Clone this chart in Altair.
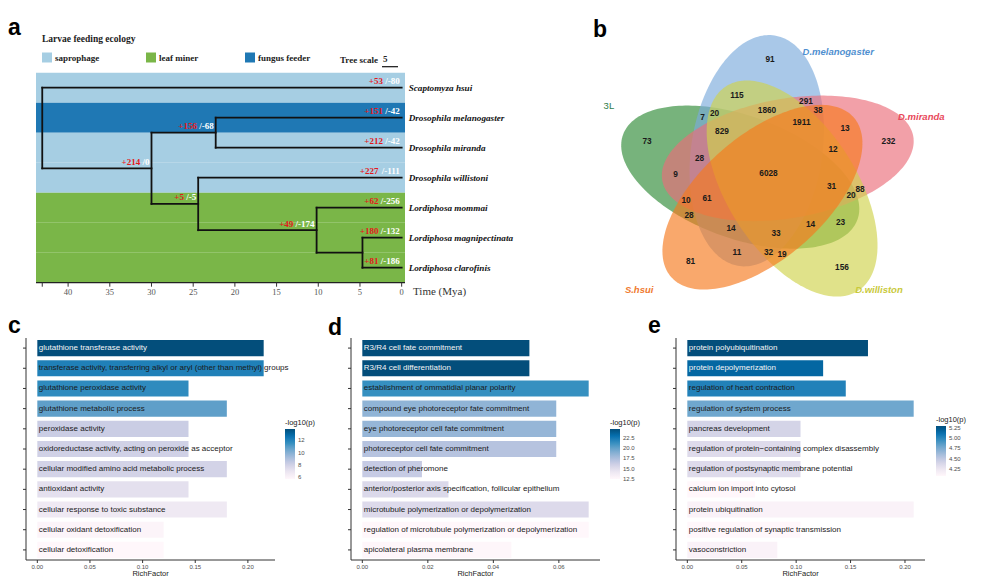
import altair as alt
import numpy as np
import pandas as pd

SERIF = "Liberation Serif"
SANS = "Liberation Sans"

# ============ panel a : phylogeny and feeding ecology ============
TIPS = ["Scaptomyza hsui", "Drosophila melanogaster", "Drosophila miranda",
        "Drosophila willistoni", "Lordiphosa mommai", "Lordiphosa magnipectinata",
        "Lordiphosa clarofinis"]
TIP_ECOLOGY = ["saprophage", "fungus feeder", "saprophage", "saprophage",
               "leaf miner", "leaf miner", "leaf miner"]
ECOLOGY_CLASSES = ["saprophage", "leaf miner", "fungus feeder"]
ECOLOGY_COLORS = ["#a6cee3", "#7ab648", "#1f78b4"]

NODES = ["root", "dros_lord", "mel_mir", "will_lord", "lord", "mag_cla"]
NODE_AGES = [43.1, 30.0, 22.3, 24.4, 10.2, 4.7]
NODE_CHILDREN = [["Scaptomyza hsui", "dros_lord"], ["mel_mir", "will_lord"],
                 ["Drosophila melanogaster", "Drosophila miranda"],
                 ["Drosophila willistoni", "lord"], ["Lordiphosa mommai", "mag_cla"],
                 ["Lordiphosa magnipectinata", "Lordiphosa clarofinis"]]
BRANCHES = ["Scaptomyza hsui", "Drosophila melanogaster", "Drosophila miranda", "mel_mir",
            "Drosophila willistoni", "dros_lord", "will_lord", "lord",
            "Lordiphosa mommai", "Lordiphosa magnipectinata", "Lordiphosa clarofinis"]
GAINS = [53, 151, 212, 156, 227, 214, 5, 49, 62, 180, 81]
LOSSES = [80, 42, 42, 68, 111, 0, 5, 174, 256, 132, 186]
TIME_TICKS = [40, 35, 30, 25, 20, 15, 10, 5, 0]
TREE_SCALE = 5

ROW1_H, ROW2_H = 292, 276
W_A, W_B = 580, 388
W_C, W_D, W_E = 320, 317, 331

X_DOM = [43.85, -0.4]
X_RNG_A = [28, 397]
Y_RNG_A = [64.7, 274.7]
PXU = (X_RNG_A[1] - X_RNG_A[0]) / (X_DOM[0] - X_DOM[1])

age = dict(zip(NODES, NODE_AGES))
age.update({t: 0.0 for t in TIPS})
ypos = {t: float(i) for i, t in enumerate(TIPS)}
children = dict(zip(NODES, NODE_CHILDREN))


def node_y(n):
    if n not in ypos:
        ypos[n] = float(np.mean([node_y(c) for c in children[n]]))
    return ypos[n]


node_y(NODES[0])
parent = {c: p for p, cs in children.items() for c in cs}

seg_rows = []
for n, cs in children.items():
    seg_rows.append({"x": age[n], "x2": age[n], "y": ypos[cs[0]], "y2": ypos[cs[-1]]})
for c, p in parent.items():
    seg_rows.append({"x": age[p], "x2": age[c], "y": ypos[c], "y2": ypos[c]})
seg_df = pd.DataFrame(seg_rows)

TB = {"+": 0.570, "-": 0.333, "/": 0.278, " ": 0.25}


def tw(s, size):
    return sum(TB.get(ch, 0.5) for ch in s) * size


GL = 9
lab_rows = []
for b, g, l in zip(BRANCHES, GAINS, LOSSES):
    loss_txt = "/0" if l == 0 else "/-%d" % l
    shift = (tw(loss_txt, GL) + tw(" ", GL)) / PXU
    lab_rows.append({"y": ypos[b], "xw": age[b], "xr": age[b] + shift,
                     "gain": "+%d" % g, "loss": loss_txt})
lab_df = pd.DataFrame(lab_rows)

tip_df = pd.DataFrame({"species": TIPS, "row": [ypos[t] for t in TIPS],
                       "age": [age[t] for t in TIPS]})
band_df = pd.DataFrame({"row": np.arange(len(TIPS)), "ecology": TIP_ECOLOGY})
band_df["y0"] = band_df["row"] - 0.5
band_df["y1"] = band_df["row"] + 0.5
band_df["xl"] = X_DOM[0]
band_df["xr"] = X_DOM[1]

xs_a = alt.Scale(domain=X_DOM, range=X_RNG_A, nice=False, zero=False)
ys_a = alt.Scale(domain=[-0.5, len(TIPS) - 0.5], range=Y_RNG_A, nice=False, zero=False)

bands = alt.Chart(band_df).mark_rect().encode(
    x=alt.X("xl:Q", scale=xs_a, axis=None),
    x2="xr:Q",
    y=alt.Y("y0:Q", scale=ys_a, axis=None),
    y2="y1:Q",
    color=alt.Color("ecology:N",
                    scale=alt.Scale(domain=ECOLOGY_CLASSES, range=ECOLOGY_COLORS),
                    legend=alt.Legend(title="Larvae feeding ecology", orient="none",
                                      legendX=34, legendY=26, direction="horizontal",
                                      titleFont=SERIF, titleFontSize=9.5,
                                      titleFontWeight="bold", titleColor="#222",
                                      titlePadding=9, labelFont=SERIF, labelFontSize=9,
                                      labelFontWeight="bold", labelColor="#222",
                                      symbolType="square", symbolSize=100,
                                      symbolStrokeWidth=0, labelOffset=3,
                                      columnPadding=46)))

base_df = pd.DataFrame({"xl": [X_DOM[0]], "xr": [X_DOM[1]], "yb": [len(TIPS) - 0.5]})
base_rule = alt.Chart(base_df).mark_rule(color="#222", strokeWidth=1.2).encode(
    x=alt.X("xl:Q", scale=xs_a, axis=None), x2="xr:Q",
    y=alt.Y("yb:Q", scale=ys_a, axis=None))

a_tick_df = pd.DataFrame({"t": [NODE_AGES[0]] + TIME_TICKS,
                          "lab": [""] + [str(v) for v in TIME_TICKS]})
a_ticks = alt.Chart(a_tick_df).mark_rule(color="#333", strokeWidth=1).encode(
    x=alt.X("t:Q", scale=xs_a, axis=None),
    y=alt.value(Y_RNG_A[1]), y2=alt.value(Y_RNG_A[1] + 4))
a_tlab = alt.Chart(a_tick_df).mark_text(font=SERIF, fontSize=8.5, color="#555",
                                        align="center", baseline="middle").encode(
    x=alt.X("t:Q", scale=xs_a, axis=None), y=alt.value(Y_RNG_A[1] + 9.5), text="lab:N")
a_title = alt.Chart(pd.DataFrame({"t": ["Time (Mya)"]})).mark_text(
    font=SERIF, fontSize=11, color="#333", align="left", baseline="middle").encode(
    x=alt.value(X_RNG_A[1] + 8), y=alt.value(Y_RNG_A[1] + 9.5), text="t:N")

branches = alt.Chart(seg_df).mark_rule(color="#111", strokeWidth=1.8,
                                       strokeCap="square").encode(
    x=alt.X("x:Q", scale=xs_a, axis=None), x2="x2:Q",
    y=alt.Y("y:Q", scale=ys_a, axis=None), y2="y2:Q")

gain_t = alt.Chart(lab_df).mark_text(align="right", baseline="middle", dx=-2, dy=-6.5,
                                     font=SERIF, fontSize=GL, fontWeight="bold",
                                     color="#e31a1c").encode(
    x=alt.X("xr:Q", scale=xs_a, axis=None), y=alt.Y("y:Q", scale=ys_a, axis=None),
    text="gain:N")
loss_t = alt.Chart(lab_df).mark_text(align="right", baseline="middle", dx=-2, dy=-6.5,
                                     font=SERIF, fontSize=GL, fontWeight="bold",
                                     color="#ffffff").encode(
    x=alt.X("xw:Q", scale=xs_a, axis=None), y=alt.Y("y:Q", scale=ys_a, axis=None),
    text="loss:N")
species_t = alt.Chart(tip_df).mark_text(align="left", baseline="middle", dx=7,
                                        font=SERIF, fontSize=9.2, fontStyle="italic",
                                        fontWeight="bold", color="#111").encode(
    x=alt.X("age:Q", scale=xs_a, axis=None), y=alt.Y("row:Q", scale=ys_a, axis=None),
    text="species:N")

ts_df = pd.DataFrame({"t": ["Tree scale"], "v": [str(TREE_SCALE)]})
ts_text = alt.Chart(ts_df).mark_text(align="left", baseline="middle", font=SERIF,
                                     fontSize=9, fontWeight="bold", color="#222").encode(
    x=alt.value(332), y=alt.value(52), text="t:N")
ts_five = alt.Chart(ts_df).mark_text(align="left", baseline="middle", font=SERIF,
                                     fontSize=9, fontWeight="bold", color="#222").encode(
    x=alt.value(375), y=alt.value(51), text="v:N")
ts_bar = alt.Chart(ts_df).mark_rule(color="#111", strokeWidth=1.2).encode(
    x=alt.value(374), x2=alt.value(390), y=alt.value(58.7))


def panel_letter(letter, x, y):
    return alt.Chart(pd.DataFrame({"t": [letter]})).mark_text(
        align="left", baseline="alphabetic", font=SANS, fontSize=23,
        fontWeight="bold", color="#000").encode(x=alt.value(x), y=alt.value(y), text="t:N")


chart_a = alt.layer(bands, base_rule, a_ticks, a_tlab, a_title, branches, gain_t, loss_t,
                    species_t, ts_text, ts_five, ts_bar,
                    panel_letter("a", 0, 27)).properties(width=W_A, height=ROW1_H)

# ============ panel b : five-set Venn ============
SET_KEYS = ["M", "R", "W", "S", "L"]
SET_NAMES = ["D.melanogaster", "D.miranda", "D.williston", "S.hsui", "3L"]
REGION_KEYS = ["M", "R", "W", "S", "L",
               "M&W", "R&L", "M&S", "W&L", "R&S",
               "M&R", "M&L", "S&L", "W&S", "R&W",
               "M&R&W", "R&W&S", "W&S&L", "M&S&L", "M&R&L",
               "M&W&L", "M&R&S", "R&W&L", "M&W&S", "R&S&L",
               "M&R&W&S", "M&R&W&L", "M&R&S&L", "M&W&S&L", "R&W&S&L",
               "M&R&W&S&L"]
REGION_COUNTS = [91, 232, 156, 81, 73,
                 115, 9, 11, 23, 13,
                 291, 7, 28, 19, 88,
                 1860, 12, 14, 14, 28,
                 20, 38, 20, 32, 10,
                 1911, 829, 61, 33, 31,
                 6028]

# diagram geometry: centre x, centre y, semi-major, semi-minor, rotation (degrees)
ELLIPSES = {
    "M": (-7.27, 22.27, 116.60, 65.51, 81.15),
    "R": (23.77, 14.63, 127.41, 59.71, 9.92),
    "W": (28.09, -15.55, 121.74, 64.42, -57.10),
    "S": (-1.58, -24.21, 121.24, 61.87, -138.89),
    "L": (-23.75, -4.14, 124.66, 61.26, 160.07),
}
DRAW_ORDER = ["L", "M", "R", "W", "S"]
FILL = {"M": "#7babdc", "R": "#eb6d7a", "W": "#d0d34b", "S": "#f67a1d", "L": "#2e8b36"}
NAME_COLOR = {"M": "#4f8fd0", "R": "#e8485a", "W": "#c9c93a", "S": "#f07a30", "L": "#2e7d4a"}
CAT_POS = {"M": (58.5, 142), "R": (19.6, 167), "W": (-45.5, 164), "S": (-136.9, 171),
           "L": (156.6, 169)}

xs_b = alt.Scale(domain=[-176, -176 + W_B], nice=False, zero=False)
ys_b = alt.Scale(domain=[165 - ROW1_H, 165], nice=False, zero=False)


def ellipse_pts(cx, cy, a, b, rot, n=200):
    th = np.radians(rot)
    t = np.linspace(0, 2 * np.pi, n)
    x = cx + a * np.cos(t) * np.cos(th) - b * np.sin(t) * np.sin(th)
    y = cy + a * np.cos(t) * np.sin(th) + b * np.sin(t) * np.cos(th)
    return x, y


# place each count at the point of its region farthest from every outline
gx, gy = np.meshgrid(np.arange(-180, 180, 1.5), np.arange(-140, 140, 1.5))
P = np.column_stack([gx.ravel(), gy.ravel()])
inside, dist = {}, {}
for k in SET_KEYS:
    cx, cy, a, b, rot = ELLIPSES[k]
    th = np.radians(rot)
    u = np.array([np.cos(th), np.sin(th)])
    v = np.array([-np.sin(th), np.cos(th)])
    d = P - np.array([cx, cy])
    inside[k] = (d @ u / a) ** 2 + (d @ v / b) ** 2 <= 1.0
    bx, by = ellipse_pts(cx, cy, a, b, rot, 360)
    B = np.column_stack([bx, by])
    dm = np.empty(len(P))
    for i in range(0, len(P), 5000):
        ch = P[i:i + 5000]
        dm[i:i + 5000] = np.sqrt(((ch[:, None, :] - B[None, :, :]) ** 2).sum(axis=2)).min(axis=1)
    dist[k] = dm

reg_rows = []
for key, cnt in zip(REGION_KEYS, REGION_COUNTS):
    mem = set(key.split("&"))
    score = np.full(len(P), np.inf)
    for k in SET_KEYS:
        score = np.minimum(score, np.where(inside[k] == (k in mem), dist[k], -dist[k]))
    j = int(np.argmax(score))
    reg_rows.append({"x": float(P[j, 0]), "y": float(P[j, 1]), "n": str(cnt)})
reg_df = pd.DataFrame(reg_rows)

venn_layers = []
for k in DRAW_ORDER:
    ex, ey = ellipse_pts(*ELLIPSES[k])
    edf = pd.DataFrame({"x": ex, "y": ey, "i": np.arange(len(ex))})
    venn_layers.append(alt.Chart(edf).mark_line(filled=True, fill=FILL[k], fillOpacity=0.65,
                                                strokeWidth=0, strokeOpacity=0).encode(
        x=alt.X("x:Q", scale=xs_b, axis=None), y=alt.Y("y:Q", scale=ys_b, axis=None),
        order="i:Q"))

num_t = alt.Chart(reg_df).mark_text(font=SANS, fontSize=8.3, fontWeight="bold",
                                    color="#1a1a1a", align="center", baseline="middle").encode(
    x=alt.X("x:Q", scale=xs_b, axis=None), y=alt.Y("y:Q", scale=ys_b, axis=None), text="n:N")

name_rows = []
for k, nm in zip(SET_KEYS, SET_NAMES):
    ang, rr = CAT_POS[k]
    name_rows.append({"x": rr * np.cos(np.radians(ang)), "y": rr * np.sin(np.radians(ang)),
                      "name": nm, "col": NAME_COLOR[k], "italic": nm.startswith(("D.", "S."))})
name_df = pd.DataFrame(name_rows)
name_it = alt.Chart(name_df[name_df["italic"]]).mark_text(
    font=SANS, fontSize=9.5, fontStyle="italic", fontWeight="bold", align="center",
    baseline="middle").encode(
    x=alt.X("x:Q", scale=xs_b, axis=None), y=alt.Y("y:Q", scale=ys_b, axis=None),
    text="name:N", color=alt.Color("col:N", scale=None))
name_up = alt.Chart(name_df[~name_df["italic"]]).mark_text(
    font=SANS, fontSize=9.5, align="center", baseline="middle").encode(
    x=alt.X("x:Q", scale=xs_b, axis=None), y=alt.Y("y:Q", scale=ys_b, axis=None),
    text="name:N", color=alt.Color("col:N", scale=None))

chart_b = alt.layer(*venn_layers, num_t, name_it, name_up,
                    panel_letter("b", 5, 28.7)).properties(width=W_B, height=ROW1_H)

# ============ panels c, d, e : enrichment bars ============
PUBU = ["#fff7fb", "#ece7f2", "#d0d1e6", "#a6bddb", "#74a9cf", "#3690c0", "#0570b0", "#034e7b"]

C_TERMS = ["glutathione transferase activity",
           "transferase activity, transferring alkyl or aryl (other than methyl) groups",
           "glutathione peroxidase activity", "glutathione metabolic process",
           "peroxidase activity", "oxidoreductase activity, acting on peroxide as acceptor",
           "cellular modified amino acid metabolic process", "antioxidant activity",
           "cellular response to toxic substance", "cellular oxidant detoxification",
           "cellular detoxification"]
C_RICH = [0.215, 0.215, 0.1436, 0.180, 0.1436, 0.1436, 0.180, 0.1436, 0.180, 0.120, 0.120]
C_LOGP = [13.85, 12.1, 11.7, 10.8, 8.2, 8.0, 7.9, 7.2, 6.7, 5.9, 5.67]

D_TERMS = ["R3/R4 cell fate commitment", "R3/R4 cell differentiation",
           "establishment of ommatidial planar polarity",
           "compound eye photoreceptor fate commitment",
           "eye photoreceptor cell fate commitment", "photoreceptor cell fate commitment",
           "detection of pheromone",
           "anterior/posterior axis specification, follicular epithelium",
           "microtubule polymerization or depolymerization",
           "regulation of microtubule polymerization or depolymerization",
           "apicolateral plasma membrane"]
D_RICH = [0.051, 0.051, 0.0691, 0.0592, 0.0592, 0.0592, 0.0182, 0.0263, 0.0691, 0.0691, 0.0455]
D_LOGP = [24.68, 24.68, 21.2, 18.5, 18.3, 17.1, 16.4, 15.3, 15.2, 12.45, 12.6]

E_TERMS = ["protein polyubiquitination", "protein depolymerization",
           "regulation of heart contraction", "regulation of system process",
           "pancreas development",
           "regulation of protein\u2212containing complex disassembly",
           "regulation of postsynaptic membrane potential",
           "calcium ion import into cytosol", "protein ubiquitination",
           "positive regulation of synaptic transmission", "vasoconstriction"]
E_RICH = [0.166, 0.1248, 0.1456, 0.208, 0.104, 0.104, 0.104, 0.0623, 0.208, 0.104, 0.0827]
E_LOGP = [5.30, 5.17, 5.03, 4.79, 4.40, 4.34, 4.34, 4.07, 4.12, 4.07, 4.12]

Y_RNG_BAR = [38, 260]
BAR_W = 249


def bar_panel(terms, rich, logp, xticks, leg_vals, leg_fmt, width, x0, leg_x, leg_y,
              letter, lx, ly):
    df = pd.DataFrame({"term": terms, "rich": rich, "logp": logp})
    df["zero"] = 0.0
    lo, hi = float(min(logp)), float(max(logp))
    mx = float(max(rich))
    thr = lo + 0.85 * (hi - lo)
    dom = [-0.05 * mx, 1.05 * mx]
    xs = alt.Scale(domain=dom, range=[x0, x0 + BAR_W], nice=False, zero=False)
    ys = alt.Scale(domain=terms, range=Y_RNG_BAR, paddingInner=0.2, paddingOuter=0.1)
    bars = alt.Chart(df).mark_bar().encode(
        x=alt.X("zero:Q", scale=xs, axis=None),
        x2="rich:Q",
        y=alt.Y("term:N", scale=ys, axis=None),
        color=alt.Color("logp:Q", scale=alt.Scale(domain=[lo, hi], range=PUBU),
                        legend=alt.Legend(title="-log10(p)", orient="none", legendX=leg_x,
                                          legendY=leg_y, direction="vertical",
                                          values=leg_vals, format=leg_fmt,
                                          gradientLength=50, gradientThickness=10,
                                          gradientStrokeWidth=0, labelFont=SANS,
                                          labelFontSize=6, labelColor="#4d4d4d",
                                          labelOffset=3, labelOverlap=False,
                                          titleFont=SANS, titleFontSize=7.5,
                                          titleFontWeight="normal", titleColor="#1a1a1a",
                                          titlePadding=2.5)))
    txt = alt.Chart(df).mark_text(align="left", baseline="middle", dx=1.5, font=SANS,
                                  fontSize=8).encode(
        x=alt.X("zero:Q", scale=xs, axis=None),
        y=alt.Y("term:N", scale=ys, axis=None),
        text="term:N",
        color=alt.condition("datum.logp > %f" % thr, alt.value("#f4f4f4"),
                            alt.value("#1a1a1a")))
    ytick = alt.Chart(df).mark_rule(color="#333", strokeWidth=1).encode(
        y=alt.Y("term:N", scale=ys, axis=None), x=alt.value(x0 - 3), x2=alt.value(x0))
    dom_df = pd.DataFrame({"xa": [dom[0]], "xb": [dom[1]]})
    xline = alt.Chart(dom_df).mark_rule(color="#333", strokeWidth=1).encode(
        x=alt.X("xa:Q", scale=xs, axis=None), x2="xb:Q", y=alt.value(Y_RNG_BAR[1]))
    yline = alt.Chart(dom_df).mark_rule(color="#333", strokeWidth=1).encode(
        x=alt.X("xa:Q", scale=xs, axis=None), y=alt.value(Y_RNG_BAR[0]),
        y2=alt.value(Y_RNG_BAR[1]))
    tick_df = pd.DataFrame({"t": xticks, "lab": ["%.2f" % v for v in xticks]})
    xtick = alt.Chart(tick_df).mark_rule(color="#333", strokeWidth=1).encode(
        x=alt.X("t:Q", scale=xs, axis=None), y=alt.value(Y_RNG_BAR[1]),
        y2=alt.value(Y_RNG_BAR[1] + 3))
    xlab = alt.Chart(tick_df).mark_text(font=SANS, fontSize=6, color="#4d4d4d",
                                        align="center", baseline="middle").encode(
        x=alt.X("t:Q", scale=xs, axis=None), y=alt.value(Y_RNG_BAR[1] + 6.8), text="lab:N")
    xtitle = alt.Chart(pd.DataFrame({"t": ["RichFactor"]})).mark_text(
        font=SANS, fontSize=7.5, color="#1a1a1a", align="center", baseline="middle").encode(
        x=alt.value(x0 + BAR_W / 2), y=alt.value(Y_RNG_BAR[1] + 14.3), text="t:N")
    return alt.layer(bars, txt, ytick, xline, yline, xtick, xlab, xtitle,
                     panel_letter(letter, lx, ly)).properties(width=width, height=ROW2_H)


chart_c = bar_panel(C_TERMS, C_RICH, C_LOGP, [0, 0.05, 0.10, 0.15, 0.20],
                    [6, 8, 10, 12], "d", W_C, 18, 277, 119, "c", 0, 33)
chart_d = bar_panel(D_TERMS, D_RICH, D_LOGP, [0, 0.02, 0.04, 0.06],
                    [12.5, 15.0, 17.5, 20.0, 22.5], ".1f", W_D, 23, 282, 119, "d", 0, 35)
chart_e = bar_panel(E_TERMS, E_RICH, E_LOGP, [0, 0.05, 0.10, 0.15, 0.20],
                    [4.25, 4.50, 4.75, 5.00, 5.25], ".2f", W_E, 31, 291, 116, "e", 3, 33)

row1 = alt.hconcat(chart_a, chart_b, spacing=0)
row2 = alt.hconcat(chart_c, chart_d, chart_e, spacing=0).resolve_scale(
    color="independent").resolve_legend(color="independent")
chart = alt.vconcat(row1, row2, spacing=0).properties(
    padding={"left": 0, "top": 0, "right": 0, "bottom": 0},
    background="white").configure_view(stroke=None)

chart.save("out.html", embed_options={"renderer": "svg", "actions": False})
